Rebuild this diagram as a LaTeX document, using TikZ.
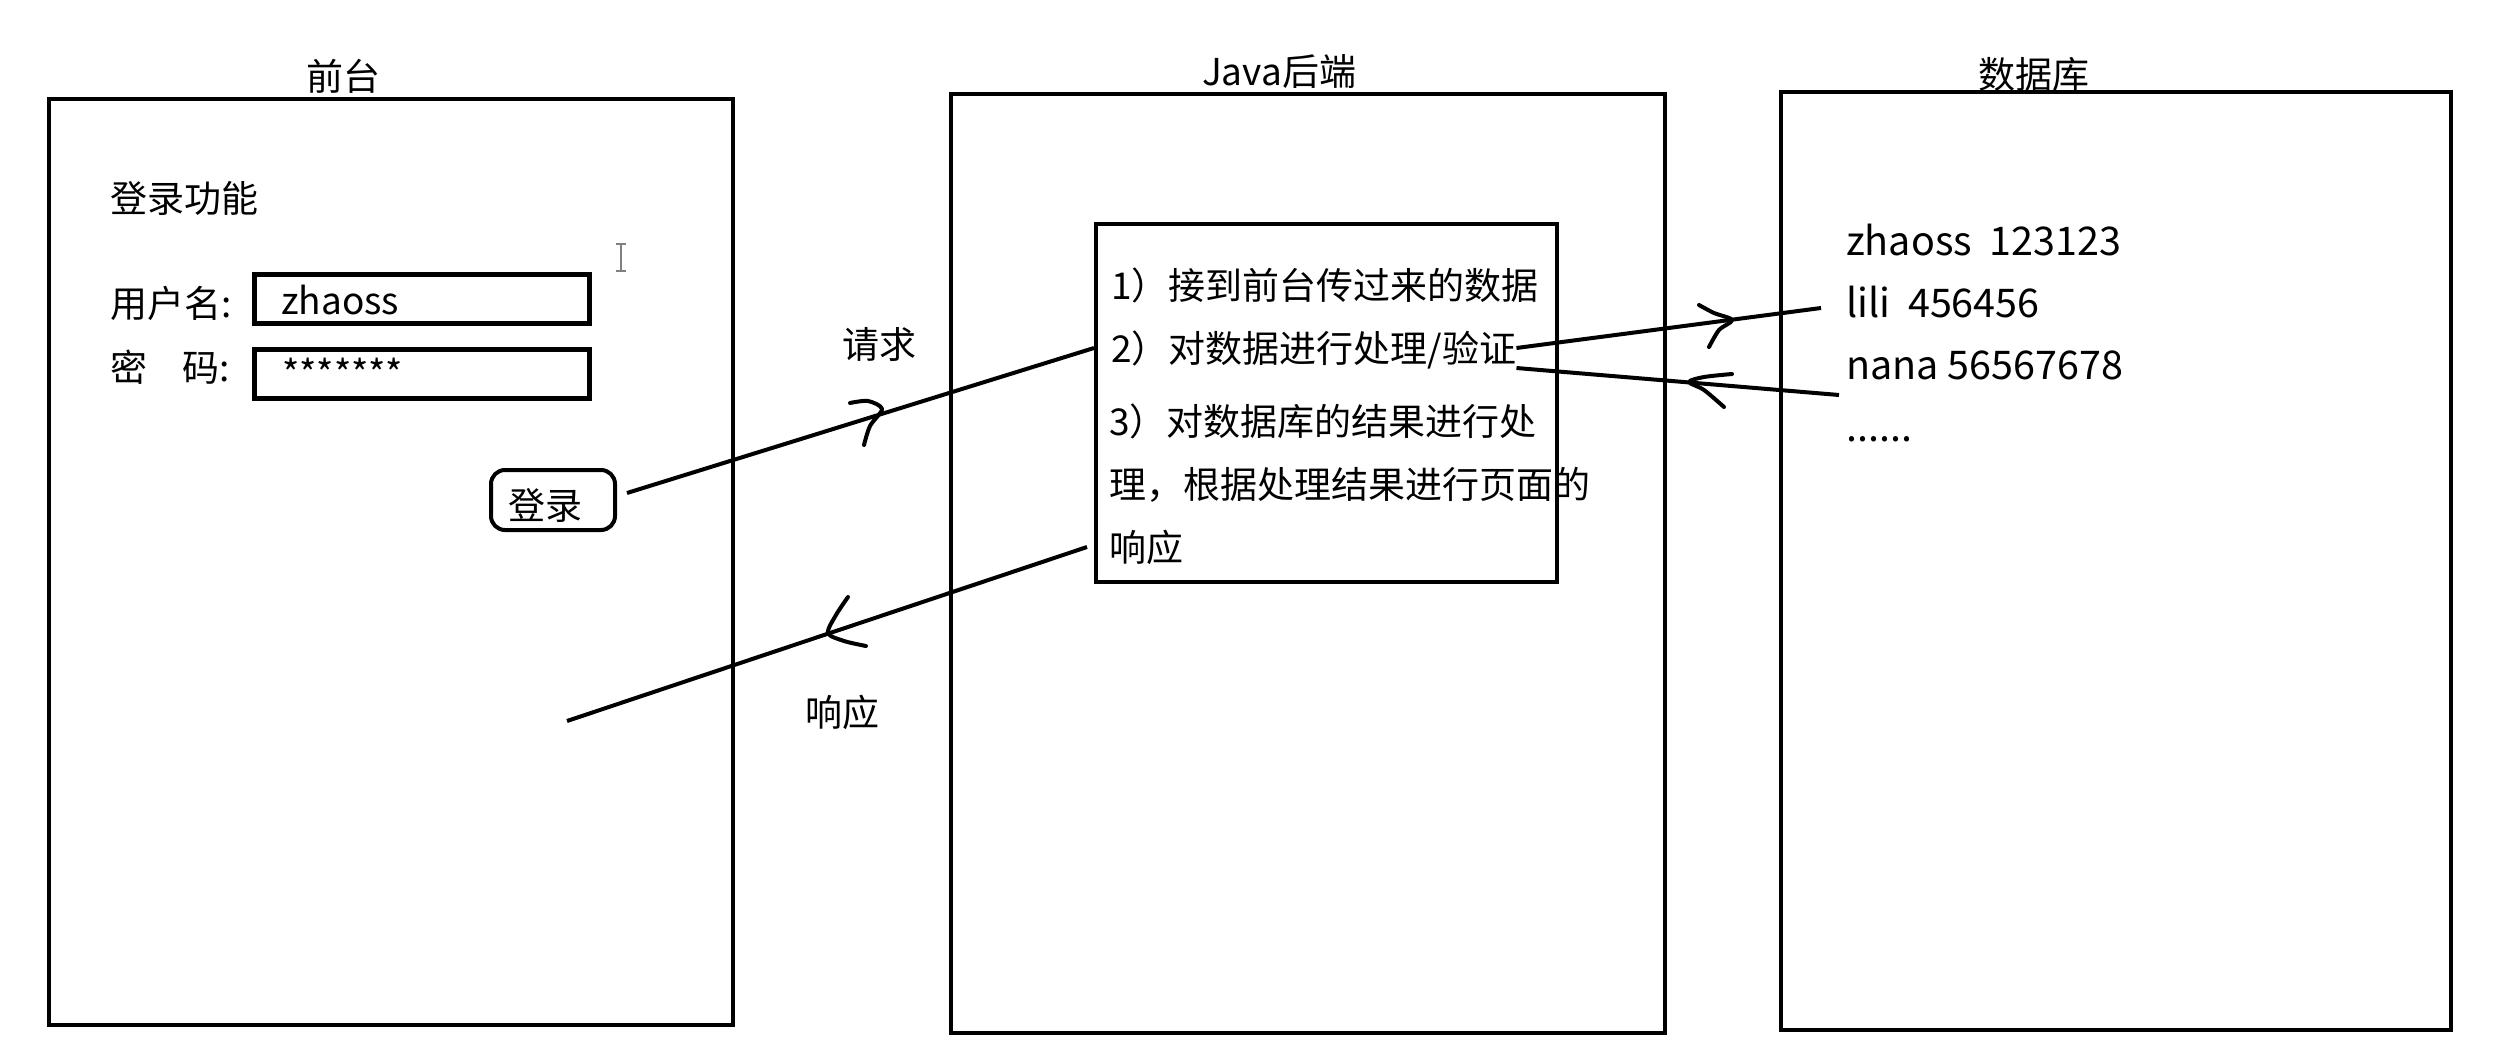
\documentclass[tikz,border=0pt]{standalone}
\usepackage{fontspec}
\setmainfont{Noto Sans CJK SC}
\newcommand\myfs{\fontsize{37}{44}\selectfont}
\newcommand\myfsdb{\fontsize{39.5}{46}\selectfont}
\tikzset{
  panel/.style={draw, line width=4pt, inner sep=0pt},
  field/.style={draw, line width=5pt, inner sep=0pt},
  lbl/.style={inner sep=0pt, anchor=west, font=\myfs, text height=33pt, text depth=4pt},
  dbl/.style={inner sep=0pt, anchor=west, font=\myfsdb, text height=35pt, text depth=4pt},
  ttl/.style={inner sep=0pt, font=\myfs, text height=33pt, text depth=4pt},
  wire/.style={line width=4pt},
  hand/.style={line width=4pt, line cap=round, line join=round},
}
\begin{document}
\begin{tikzpicture}[x=1pt,y=-1pt]
\useasboundingbox[fill=white] (0,0) rectangle (2494,1062);
% titles
\node[ttl] (tfront) at (343,76) {前台};
\node[ttl] (tjava) at (1279,71) {Java后端};
\node[ttl] (tdb) at (2034,74) {数据库};
% panels
\node[panel, minimum width=684pt, minimum height=926pt] (front) at (391,562) {};
\node[panel, minimum width=714pt, minimum height=939pt] (java) at (1308,563.5) {};
\node[panel, minimum width=670pt, minimum height=938pt] (db) at (2116,561) {};
% front content
\node[lbl] (ftitle) at (110,198) {登录功能};
\node[lbl] (uname) at (110,303) {用户名:};
\node[field, minimum width=335pt, minimum height=49pt] (ubox) at (421.5,298.5) {};
\node[lbl] (uval) at (281,300) {zhaoss};
\node[lbl] (pname) at (110,367) {密\hspace{0.95em}码:};
\node[field, minimum width=335pt, minimum height=49pt] (pbox) at (421.5,373.5) {};
\node[lbl] (pval) at (282,373) {*******};
\node[draw, line width=4pt, rounded corners=14pt, minimum width=124pt, minimum height=60pt, inner sep=0pt] (login) at (553,500) {};
\node[ttl] (logintxt) at (545,505) {登录};
% cursor
\draw[gray, line width=1.3pt] (621,245) -- (621,270) (616,244) -- (626,244) (616,271) -- (626,271);
% java inner box
\node[panel, minimum width=461pt, minimum height=358pt] (inner) at (1326.5,403) {};
\node[lbl] (s1) at (1111,285) {1）接到前台传过来的数据};
\node[lbl] (s2) at (1111,348) {2）对数据进行处理/验证};
\node[lbl] (s3) at (1109,421) {3）对数据库的结果进行处};
\node[lbl] (s4) at (1109,484) {理，根据处理结果进行页面的};
\node[lbl] (s5) at (1109,547) {响应};
% db content
\node[dbl] (db1) at (1846,240) {zhaoss\ \ 123123};
\node[dbl] (db2) at (1846,302) {lili\ \ 456456};
\node[dbl] (db3) at (1846,364) {nana 56567678};
\node[dbl] (db4) at (1846,426) {......};
% labels
\node[ttl] (req) at (879,344) {请求};
\node[ttl] (resp) at (842,712) {响应};
% connectors
\coordinate (respEnd) at (567,721);
\draw[wire] ([shift={(10pt,7pt)}]login.east) -- ([xshift=-17pt]s2.west);
\draw[wire] ([xshift=-22pt]s5.west) -- (respEnd);
\draw[wire] (s2.east) -- ([shift={(-25pt,-6pt)}]db2.west);
\draw[wire] ([shift={(-7pt,-31pt)}]db3.west) -- ([yshift=-20pt]s2.east);
% hand-drawn arrowheads
\draw[hand] plot[smooth] coordinates {(850,403) (868,401) (882,409) (870,426) (864,445)};
\draw[hand] plot[smooth] coordinates {(848,597) (836,615) (828,633) (844,641) (866,646)};
\draw[hand] plot[smooth] coordinates {(1699,305) (1714,313) (1732,320) (1719,330) (1709,347)};
\draw[hand] plot[smooth] coordinates {(1732,374) (1704,377) (1689,382) (1704,390) (1724,407)};
\end{tikzpicture}
\end{document}
